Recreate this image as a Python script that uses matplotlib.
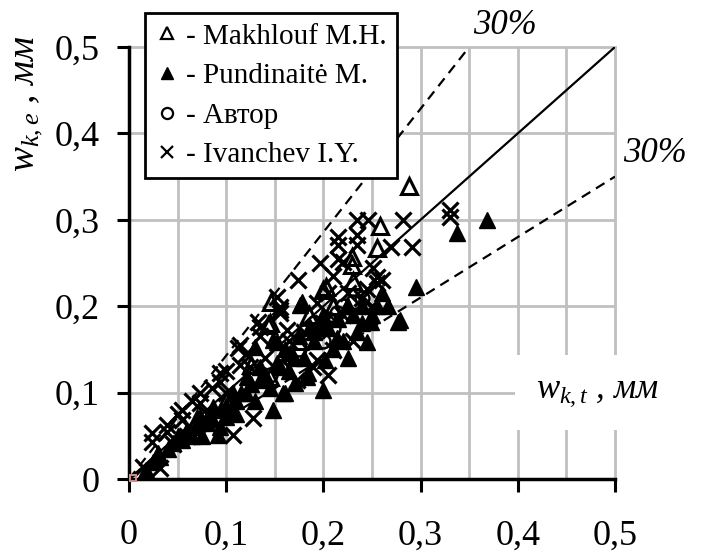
import numpy as np
import matplotlib
matplotlib.use('Agg')
import matplotlib.pyplot as plt
from matplotlib.lines import Line2D

plt.rcParams['font.family'] = ['Liberation Serif', 'DejaVu Serif']
plt.rcParams['mathtext.fontset'] = 'custom'
plt.rcParams['mathtext.it'] = 'Liberation Serif:italic'
plt.rcParams['mathtext.rm'] = 'Liberation Serif'

# Makhlouf M.H. (open triangles)
mak_x = [0.288, 0.258, 0.255, 0.229, 0.229, 0.203, 0.200, 0.146, 0.145, 0.143,
         0.126, 0.145, 0.210, 0.185, 0.230, 0.100, 0.070, 0.175]
mak_y = [0.339, 0.293, 0.267, 0.257, 0.248, 0.222, 0.219, 0.205, 0.180, 0.178,
         0.132, 0.118, 0.200, 0.190, 0.229, 0.090, 0.070, 0.160]

# Pundinaite M. (filled triangles)
pun_x = [0.368, 0.337, 0.295, 0.279, 0.266, 0.277, 0.249, 0.245, 0.224, 0.178,
         0.152, 0.176, 0.130, 0.148, 0.160, 0.148, 0.092, 0.183, 0.121, 0.107,
         0.086, 0.073, 0.060, 0.045, 0.032, 0.018, 0.094, 0.100, 0.186, 0.197,
         0.202, 0.184, 0.158, 0.171, 0.214, 0.135, 0.152, 0.166, 0.200, 0.220,
         0.235, 0.210, 0.230, 0.240, 0.190, 0.260, 0.120, 0.080, 0.050, 0.040,
         0.025, 0.110, 0.140, 0.170, 0.155, 0.205, 0.250, 0.225, 0.065, 0.100,
         0.130, 0.030, 0.055, 0.070, 0.085, 0.095, 0.115, 0.125, 0.135, 0.160,
         0.175, 0.190, 0.200, 0.215, 0.225, 0.240, 0.255, 0.180, 0.165, 0.145,
         0.110, 0.075]
pun_y = [0.300, 0.285, 0.222, 0.184, 0.200, 0.182, 0.182, 0.159, 0.200, 0.205,
         0.159, 0.201, 0.153, 0.161, 0.100, 0.080, 0.051, 0.118, 0.118, 0.100,
         0.083, 0.072, 0.057, 0.042, 0.026, 0.010, 0.060, 0.072, 0.176, 0.176,
         0.138, 0.123, 0.100, 0.111, 0.163, 0.115, 0.134, 0.146, 0.103, 0.160,
         0.170, 0.150, 0.190, 0.200, 0.160, 0.215, 0.100, 0.065, 0.050, 0.035,
         0.020, 0.090, 0.120, 0.140, 0.130, 0.175, 0.190, 0.140, 0.050, 0.085,
         0.090, 0.030, 0.045, 0.060, 0.070, 0.080, 0.100, 0.110, 0.130, 0.150,
         0.165, 0.170, 0.190, 0.185, 0.200, 0.180, 0.200, 0.140, 0.125, 0.105,
         0.075, 0.050]

# Avtor (open circles)
avt_x = [0.214, 0.205, 0.195, 0.185, 0.220, 0.200, 0.175, 0.165, 0.210, 0.190,
         0.230, 0.155, 0.145, 0.240, 0.180]
avt_y = [0.192, 0.185, 0.170, 0.160, 0.200, 0.160, 0.150, 0.140, 0.175, 0.180,
         0.205, 0.130, 0.120, 0.210, 0.170]

# Ivanchev I.Y. (crosses)
iva_x = [0.235, 0.246, 0.282, 0.330, 0.330, 0.215, 0.215, 0.235, 0.235, 0.270,
         0.291, 0.197, 0.220, 0.174, 0.251, 0.255, 0.255, 0.152, 0.155, 0.155,
         0.133, 0.135, 0.163, 0.114, 0.112, 0.114, 0.094, 0.094, 0.073, 0.073,
         0.055, 0.055, 0.039, 0.039, 0.024, 0.024, 0.107, 0.128, 0.173, 0.193,
         0.032, 0.014, 0.193, 0.240, 0.155, 0.189, 0.124, 0.210, 0.165, 0.180,
         0.200, 0.220, 0.245, 0.250, 0.260, 0.140, 0.100, 0.080, 0.060, 0.045,
         0.230, 0.205, 0.050, 0.065, 0.085, 0.100, 0.120, 0.135, 0.205, 0.210,
         0.215, 0.225]
iva_y = [0.300, 0.300, 0.300, 0.311, 0.303, 0.280, 0.271, 0.282, 0.271, 0.269,
         0.269, 0.250, 0.251, 0.230, 0.244, 0.234, 0.227, 0.211, 0.199, 0.192,
         0.182, 0.176, 0.172, 0.155, 0.152, 0.132, 0.123, 0.112, 0.100, 0.088,
         0.080, 0.068, 0.063, 0.054, 0.053, 0.043, 0.051, 0.071, 0.115, 0.138,
         0.013, 0.014, 0.204, 0.210, 0.196, 0.130, 0.130, 0.149, 0.160, 0.170,
         0.180, 0.190, 0.220, 0.200, 0.230, 0.140, 0.100, 0.075, 0.050, 0.040,
         0.160, 0.120, 0.075, 0.090, 0.105, 0.125, 0.145, 0.165, 0.215, 0.235,
         0.255, 0.215]

ticks = [0, 0.1, 0.2, 0.3, 0.4, 0.5]
tick_labels = ['0', '0,1', '0,2', '0,3', '0,4', '0,5']
line_x = [0, 0.5]

fig = plt.figure(figsize=(7.05, 5.51), dpi=100)
ax = fig.add_axes([129 / 705, 1 - 479 / 551, 486 / 705, 432 / 551])

ax.set_xlim(0, 0.5)
ax.set_ylim(0, 0.5)
ax.set_xticks(ticks)
ax.set_xticklabels(tick_labels)
ax.set_yticks(ticks)
ax.set_yticklabels(tick_labels)
ax.set_xticks(np.arange(0.05, 0.5, 0.1), minor=True)
ax.tick_params(axis='both', which='major', labelsize=26, length=9, width=2.2,
               direction='out', color='black')
ax.tick_params(axis='x', which='major', pad=20)
ax.tick_params(axis='y', which='major', pad=12)
ax.tick_params(axis='x', which='minor', length=0)

ax.grid(True, which='major', color='#c0c0c0', linewidth=2)
ax.grid(True, which='minor', axis='x', color='#c0c0c0', linewidth=2)
for gl in ax.get_xgridlines() + ax.get_ygridlines():
    gl.set_clip_on(False)
ax.set_axisbelow(True)

for s in ['top', 'right']:
    ax.spines[s].set_visible(False)
for s in ['left', 'bottom']:
    ax.spines[s].set_linewidth(2.5)
    ax.spines[s].set_zorder(5)

# 1:1 line and +/-30% bounds
ax.plot(line_x, line_x, color='black', lw=1.6, zorder=3)
ax.plot([0, 0.5 * 0.7], [0, 0.5], color='black', lw=1.6, ls=(0, (4.5, 3)), zorder=3)
ax.plot([0, 0.5], [0, 0.5 * 0.7], color='black', lw=1.6, ls=(0, (4.5, 3)), zorder=3)

ax.plot(iva_x, iva_y, ls='none', marker='x', ms=11, mew=2.3, color='black', zorder=4)
ax.plot(pun_x, pun_y, ls='none', marker='^', ms=12, mew=1, color='black', zorder=4)
ax.plot(avt_x, avt_y, ls='none', marker='o', ms=10, mew=1.8, mfc='none', mec='black', zorder=4)
ax.plot(mak_x, mak_y, ls='none', marker='^', ms=12, mew=2.2, mfc='none', mec='black', zorder=4)
ax.plot([0.004], [0.001], ls='none', marker='s', ms=5, mfc='none', mec='#c98b8b', mew=1.5,
        zorder=6, clip_on=False)

handles = [
    Line2D([], [], ls='none', marker='^', ms=8, mew=1.6, mfc='none', mec='black'),
    Line2D([], [], ls='none', marker='^', ms=9, color='black'),
    Line2D([], [], ls='none', marker='o', ms=8, mew=1.6, mfc='none', mec='black'),
    Line2D([], [], ls='none', marker='x', ms=8, mew=1.6, color='black'),
]
labels = ['- Makhlouf M.H.', '- Pundinaitė M.', '- Автор', '- Ivanchev I.Y.']
leg = fig.legend(handles, labels, loc='upper left', bbox_to_anchor=(145 / 705, 1 - 13 / 551),
                 fontsize=21, frameon=True, fancybox=False, framealpha=1, edgecolor='black',
                 handlelength=0.8, handletextpad=0.25, labelspacing=0.45, borderpad=0.35,
                 borderaxespad=0, numpoints=1)
leg.get_frame().set_linewidth(2)
leg.set_zorder(10)

ax.text(0.482, 0.1, r'$w_{k,t}$ , мм', fontsize=25, style='italic', ha='center', va='center',
        bbox=dict(facecolor='white', edgecolor='none', pad=15), zorder=7, clip_on=False)
fig.text(28 / 705, 1 - 104 / 551, r'$w_{k,e}$ , мм', fontsize=27, style='italic',
         rotation=90, ha='center', va='center')
fig.text(505 / 705, 1 - 26 / 551, '30%', fontsize=25, style='italic', ha='center', va='center')
fig.text(655 / 705, 1 - 153 / 551, '30%', fontsize=25, style='italic', ha='center', va='center')

fig.savefig('out.png', dpi=100)
